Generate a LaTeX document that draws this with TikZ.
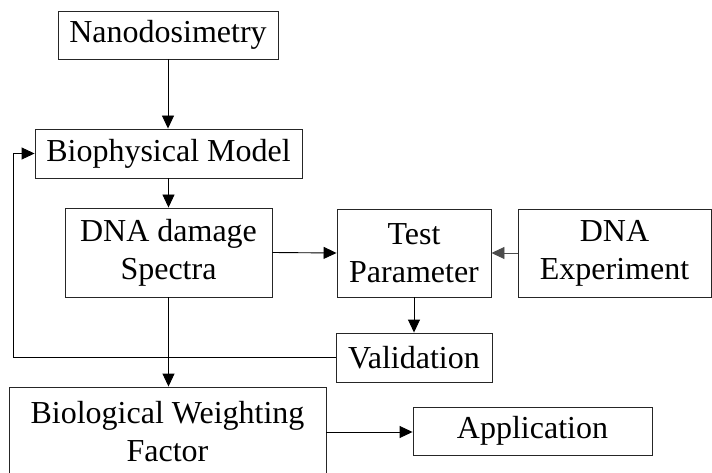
\documentclass[tikz,border=0pt]{standalone}
\usepackage{fontspec}
\setmainfont{Liberation Serif}
\usetikzlibrary{arrows.meta}
\begin{document}
\begin{tikzpicture}[x=1pt,y=-1pt,
  box/.style={draw=black!85, line width=0.9pt, inner sep=0pt, align=center,
    font=\fontsize{32}{38}\selectfont},
  conn/.style={line width=0.9pt, -{Triangle[length=13pt,width=12pt]}}]
\useasboundingbox (0,0) rectangle (712,473);
\node[box, minimum width=220pt, minimum height=48pt] (nano) at (168,35) {Nanodosimetry};
\node[box, minimum width=267pt, minimum height=49pt] (bio) at (168.5,153.5) {Biophysical Model};
\node[box, minimum width=207pt, minimum height=89pt] (dna) at (168.5,252.5) {DNA damage\\Spectra};
\node[box, minimum width=154pt, minimum height=88pt] (test) at (414,253) {Test\\Parameter};
\node[box, minimum width=193pt, minimum height=88pt] (exp) at (614.5,253) {DNA\\Experiment};
\node[box, minimum width=156pt, minimum height=49pt] (val) at (414,357.5) {Validation};
\node[box, minimum width=317pt, minimum height=90pt] (bwf) at (167.5,432) {Biological Weighting\\Factor};
\node[box, minimum width=239pt, minimum height=48pt] (app) at (532.5,431) {Application};
\draw[conn] (nano.south) -- (nano.south |- bio.north);
\draw[conn] (bio.south) -- (bio.south |- dna.north);
\draw[conn] (dna.east) -- (test.west);
\draw[conn, black!70] (exp.west) -- (test.east);
\draw[conn] (test.south) -- (val.north);
\draw[conn] (val.west) -- ++(-322,0) |- (bio.west);
\draw[conn] (dna.south) -- (dna.south |- bwf.north);
\draw[conn] (bwf.east) -- (bwf.east -| app.west);
\end{tikzpicture}
\end{document}
